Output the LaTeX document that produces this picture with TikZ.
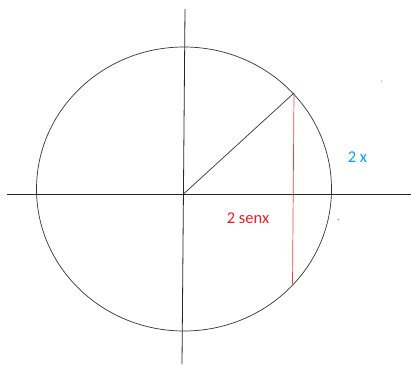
\documentclass[tikz,border=0pt]{standalone}
\usepackage{fontspec}
\setmainfont{Carlito}
\usepackage{xcolor}
\usetikzlibrary{calc,positioning}
\definecolor{paintblue}{RGB}{0,162,232}
\definecolor{paintred}{RGB}{237,28,36}

\begin{document}
\begin{tikzpicture}[x=1pt,y=-1pt,font=\fontsize{16.5}{19}\selectfont,
  axis/.style={black!85,line width=0.8pt},
  curve/.style={black!80,line width=0.7pt},
  chord/.style={paintred!85,line width=0.7pt}]
  \useasboundingbox (0,0) rectangle (411,364);
  % axes
  \coordinate (xl) at (7,194);
  \coordinate (xr) at (411,194);
  \coordinate (yt) at (185,9);
  \coordinate (yb) at (182,364);
  \draw[axis] (xl) -- (xr);
  \draw[axis] (yt) -- (yb);
  % circle, radius and chord
  \coordinate (C) at (184,189);
  \coordinate (O) at (183.5,194);
  \coordinate (P) at (294,93);
  \coordinate (Q) at (292.5,284);
  \draw[curve] (C) ellipse [x radius=147.5,y radius=142];
  \draw[curve] (O) -- (P);
  \draw[chord] (P) -- (Q);
  \node[text=paintblue] (twox) at (357.5,157.5) {2 x};
  \node[text=paintred] (twosen) at (248,218.5) {2 senx};
  % stray dots
  \fill[black!50] (381.7,81) circle (0.7) (338.3,219.3) circle (0.7);
\end{tikzpicture}
\end{document}
